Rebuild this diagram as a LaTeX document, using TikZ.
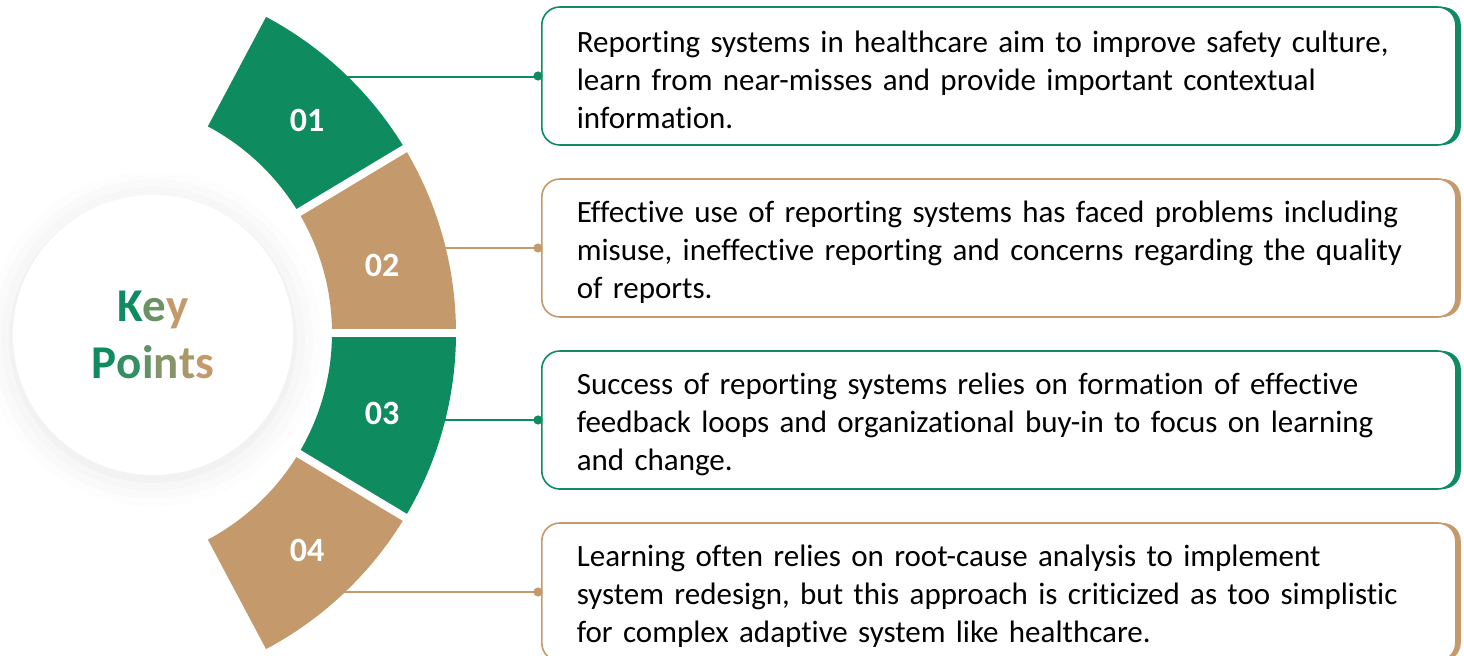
\documentclass[tikz,border=0pt]{standalone}
\usepackage{fontspec}
\setmainfont{Carlito}[Ligatures=NoCommon]
\usetikzlibrary{shadows,shadows.blur}
\definecolor{kpgreen}{RGB}{15,140,95}
\definecolor{kptan}{RGB}{196,154,108}
\tikzset{
	keybox/.style={draw=#1, line width=0.8pt, rounded corners=9pt, fill=white,
		minimum width=457pt, minimum height=69pt, text width=422pt, inner xsep=17.5pt,
		align=left, anchor=west, font=\fontsize{15.5}{19}\selectfont,
		execute at begin node={\rule{0pt}{15pt}},
		general shadow={fill=#1, shadow xshift=2.5pt}},
	keyline/.style={draw=#1, line width=1pt},
	segnum/.style={text=white, font=\fontsize{17}{20}\selectfont\bfseries},
}
\begin{document}
\begin{tikzpicture}[x=0.5pt,y=0.5pt]
	\useasboundingbox (0,0) rectangle (1464,655);
	\coordinate (C) at (98,322);
	%KEY POINTS
	\node[circle, fill=white, minimum size=140pt, align=center,
		blur shadow={shadow xshift=0pt, shadow yshift=-2pt, shadow blur radius=14pt, shadow opacity=10},
		font=\fontsize{23.5}{28.5}\selectfont\bfseries] (kp) at (153,320)
		{\textcolor{kpgreen}{K}\textcolor{kpgreen!50!kptan}{e}\textcolor{kptan}{y}\\
		 \textcolor{kpgreen}{P}\textcolor{kpgreen!80!kptan}{o}\textcolor{kpgreen!55!kptan}{i}\textcolor{kpgreen!35!kptan}{n}\textcolor{kpgreen!15!kptan}{t}\textcolor{kptan}{s}};
	%BOXES
	\node[keybox=kpgreen] (box1) at (541,579) {Reporting systems in healthcare aim to improve safety culture,\\learn from near-misses and provide important contextual\\information.};
	\node[keybox=kptan] (box2) at (541,407) {Effective use of reporting systems has faced problems including\\misuse, ineffective reporting and concerns regarding the quality\\of reports.};
	\node[keybox=kpgreen] (box3) at (541,235) {Success of reporting systems relies on formation of effective\\feedback loops and organizational buy-in to focus on learning\\and change.};
	\node[keybox=kptan] (box4) at (541,63) {Learning often relies on root-cause analysis to implement\\system redesign, but this approach is criticized as too simplistic\\for complex adaptive system like healthcare.};
	%CONNECTORS
	\coordinate (p1) at ([shift={(45.9:357)}]C);
	\coordinate (p2) at ([shift={(13.7:357)}]C);
	\coordinate (p3) at ([shift={(-14.1:357)}]C);
	\coordinate (p4) at ([shift={(-46.4:357)}]C);
	\foreach \i/\c in {1/kpgreen,2/kptan,3/kpgreen,4/kptan}{
		\draw[keyline=\c] (p\i) -- (p\i -| box\i.west);
		\fill[\c] (box\i.west) ++(-3,0) circle[radius=2.3pt];
	}
	%SEGMENTS
	\foreach \a/\b/\c in {31/62/kpgreen, 0/31/kptan, -31/0/kpgreen, -62/-31/kptan}
		\fill[\c] ([shift={(\a:234)}]C) arc[start angle=\a, end angle=\b, radius=234]
			-- ([shift={(\b:358)}]C) arc[start angle=\b, end angle=\a, radius=358] -- cycle;
	\foreach \a in {31,0,-31}
		\draw[white, line width=4pt] ([shift={(\a:226)}]C) -- ([shift={(\a:366)}]C);
	\node[segnum] (n1) at (307,535) {01};
	\node[segnum] (n2) at (382,390) {02};
	\node[segnum] (n3) at (382,242) {03};
	\node[segnum] (n4) at (307,105) {04};
\end{tikzpicture}
\end{document}
